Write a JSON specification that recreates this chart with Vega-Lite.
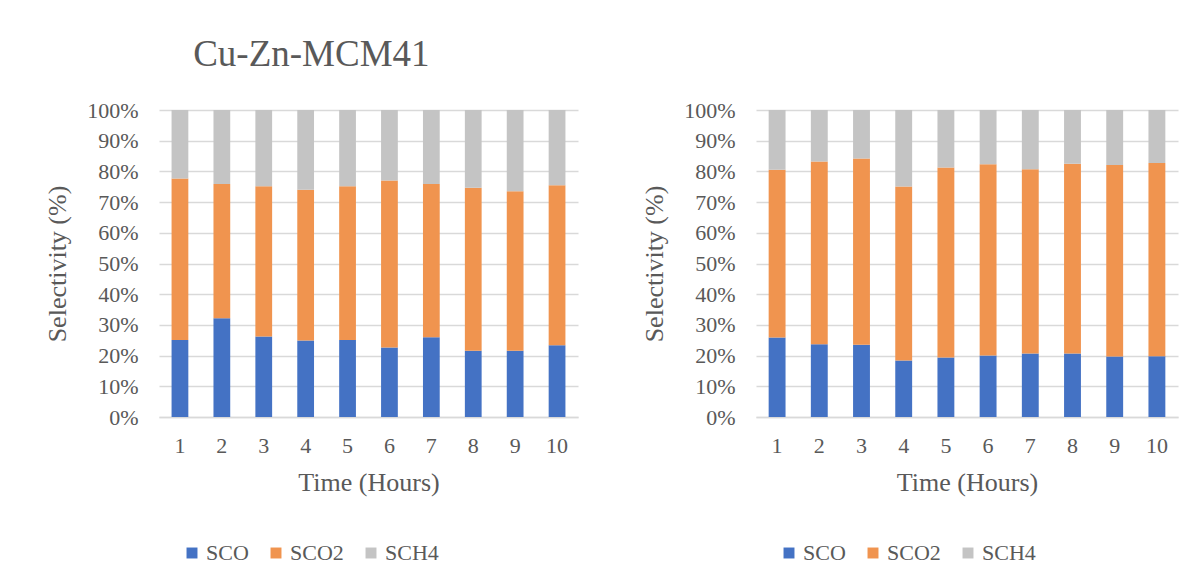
{
  "$schema": "https://vega.github.io/schema/vega-lite/v6.json",
  "background": "white",
  "padding": {"left": 44, "top": 36, "right": 5, "bottom": 5},
  "bounds": "flush",
  "spacing": 178,
  "config": {
    "font": "Liberation Serif, Times New Roman, serif",
    "view": {"stroke": null},
    "axis": {
      "labelFont": "Liberation Serif, Times New Roman, serif",
      "titleFont": "Liberation Serif, Times New Roman, serif",
      "labelFontSize": 22,
      "titleFontSize": 26,
      "labelColor": "#595959",
      "titleColor": "#595959",
      "titleFontWeight": "normal",
      "ticks": false,
      "domain": false,
      "gridColor": "#D9D9D9",
      "gridWidth": 1.3
    },
    "axisX": {"grid": false, "domain": true, "domainColor": "#D9D9D9", "domainWidth": 1.3, "labelPadding": 18, "titlePadding": 13, "labelAngle": 0},
    "axisY": {"labelPadding": 21, "titlePadding": 16},
    "legend": {
      "orient": "bottom",
      "direction": "horizontal",
      "title": null,
      "labelFont": "Liberation Serif, Times New Roman, serif",
      "labelFontSize": 22,
      "labelColor": "#595959",
      "labelOffset": 3,
      "symbolType": "square",
      "symbolSize": 120,
      "symbolStrokeWidth": 0,
      "columnPadding": 16,
      "padding": 22,
      "offset": 25
    },
    "title": {"font": "Liberation Serif, Times New Roman, serif", "fontSize": 37, "fontWeight": "normal", "color": "#595959"}
  },
  "datasets": {
    "left": [
      {"hour": 1, "series": "SCO", "value": 25.1}, {"hour": 1, "series": "SCO2", "value": 52.6}, {"hour": 1, "series": "SCH4", "value": 22.3},
      {"hour": 2, "series": "SCO", "value": 32.2}, {"hour": 2, "series": "SCO2", "value": 43.7}, {"hour": 2, "series": "SCH4", "value": 24.1},
      {"hour": 3, "series": "SCO", "value": 26.2}, {"hour": 3, "series": "SCO2", "value": 49.0}, {"hour": 3, "series": "SCH4", "value": 24.8},
      {"hour": 4, "series": "SCO", "value": 24.9}, {"hour": 4, "series": "SCO2", "value": 49.1}, {"hour": 4, "series": "SCH4", "value": 26.0},
      {"hour": 5, "series": "SCO", "value": 25.1}, {"hour": 5, "series": "SCO2", "value": 50.1}, {"hour": 5, "series": "SCH4", "value": 24.8},
      {"hour": 6, "series": "SCO", "value": 22.6}, {"hour": 6, "series": "SCO2", "value": 54.4}, {"hour": 6, "series": "SCH4", "value": 23.0},
      {"hour": 7, "series": "SCO", "value": 26.0}, {"hour": 7, "series": "SCO2", "value": 49.9}, {"hour": 7, "series": "SCH4", "value": 24.1},
      {"hour": 8, "series": "SCO", "value": 21.6}, {"hour": 8, "series": "SCO2", "value": 53.1}, {"hour": 8, "series": "SCH4", "value": 25.3},
      {"hour": 9, "series": "SCO", "value": 21.6}, {"hour": 9, "series": "SCO2", "value": 51.9}, {"hour": 9, "series": "SCH4", "value": 26.5},
      {"hour": 10, "series": "SCO", "value": 23.4}, {"hour": 10, "series": "SCO2", "value": 52.1}, {"hour": 10, "series": "SCH4", "value": 24.5}
    ],
    "right": [
      {"hour": 1, "series": "SCO", "value": 25.9}, {"hour": 1, "series": "SCO2", "value": 54.6}, {"hour": 1, "series": "SCH4", "value": 19.5},
      {"hour": 2, "series": "SCO", "value": 23.7}, {"hour": 2, "series": "SCO2", "value": 59.5}, {"hour": 2, "series": "SCH4", "value": 16.8},
      {"hour": 3, "series": "SCO", "value": 23.5}, {"hour": 3, "series": "SCO2", "value": 60.7}, {"hour": 3, "series": "SCH4", "value": 15.8},
      {"hour": 4, "series": "SCO", "value": 18.4}, {"hour": 4, "series": "SCO2", "value": 56.7}, {"hour": 4, "series": "SCH4", "value": 24.9},
      {"hour": 5, "series": "SCO", "value": 19.4}, {"hour": 5, "series": "SCO2", "value": 61.9}, {"hour": 5, "series": "SCH4", "value": 18.7},
      {"hour": 6, "series": "SCO", "value": 20.0}, {"hour": 6, "series": "SCO2", "value": 62.3}, {"hour": 6, "series": "SCH4", "value": 17.7},
      {"hour": 7, "series": "SCO", "value": 20.7}, {"hour": 7, "series": "SCO2", "value": 60.0}, {"hour": 7, "series": "SCH4", "value": 19.3},
      {"hour": 8, "series": "SCO", "value": 20.7}, {"hour": 8, "series": "SCO2", "value": 61.8}, {"hour": 8, "series": "SCH4", "value": 17.5},
      {"hour": 9, "series": "SCO", "value": 19.7}, {"hour": 9, "series": "SCO2", "value": 62.4}, {"hour": 9, "series": "SCH4", "value": 17.9},
      {"hour": 10, "series": "SCO", "value": 19.8}, {"hour": 10, "series": "SCO2", "value": 62.9}, {"hour": 10, "series": "SCH4", "value": 17.3}
    ]
  },
  "hconcat": [
    {
      "width": 419,
      "height": 307,
      "title": {"text": "Cu-Zn-MCM41", "frame": "bounds", "anchor": "middle", "offset": 25},
      "data": {"name": "left"},
      "transform": [{"calculate": "indexof(['SCO', 'SCO2', 'SCH4'], datum.series)", "as": "stackOrder"}],
      "mark": {"type": "bar"},
      "encoding": {
        "x": {"field": "hour", "type": "ordinal", "title": "Time (Hours)", "scale": {"paddingInner": 0.6, "paddingOuter": 0.3}},
        "y": {"field": "value", "type": "quantitative", "stack": "normalize", "title": "Selectivity (%)",
              "axis": {"format": ".0%", "values": [0, 0.1, 0.2, 0.3, 0.4, 0.5, 0.6, 0.7, 0.8, 0.9, 1]}},
        "color": {"field": "series", "type": "nominal", "sort": ["SCO", "SCO2", "SCH4"],
                  "scale": {"domain": ["SCO", "SCO2", "SCH4"], "range": ["#4472C4", "#F0944F", "#C4C4C4"]}},
        "order": {"field": "stackOrder", "type": "quantitative", "sort": "ascending"}
      }
    },
    {
      "width": 422,
      "height": 307,
      "data": {"name": "right"},
      "transform": [{"calculate": "indexof(['SCO', 'SCO2', 'SCH4'], datum.series)", "as": "stackOrder"}],
      "mark": {"type": "bar"},
      "encoding": {
        "x": {"field": "hour", "type": "ordinal", "title": "Time (Hours)", "scale": {"paddingInner": 0.6, "paddingOuter": 0.3}},
        "y": {"field": "value", "type": "quantitative", "stack": "normalize", "title": "Selectivity (%)",
              "axis": {"format": ".0%", "values": [0, 0.1, 0.2, 0.3, 0.4, 0.5, 0.6, 0.7, 0.8, 0.9, 1]}},
        "color": {"field": "series", "type": "nominal", "sort": ["SCO", "SCO2", "SCH4"],
                  "scale": {"domain": ["SCO", "SCO2", "SCH4"], "range": ["#4472C4", "#F0944F", "#C4C4C4"]}},
        "order": {"field": "stackOrder", "type": "quantitative", "sort": "ascending"}
      }
    }
  ],
  "resolve": {"legend": {"color": "independent"}}
}
